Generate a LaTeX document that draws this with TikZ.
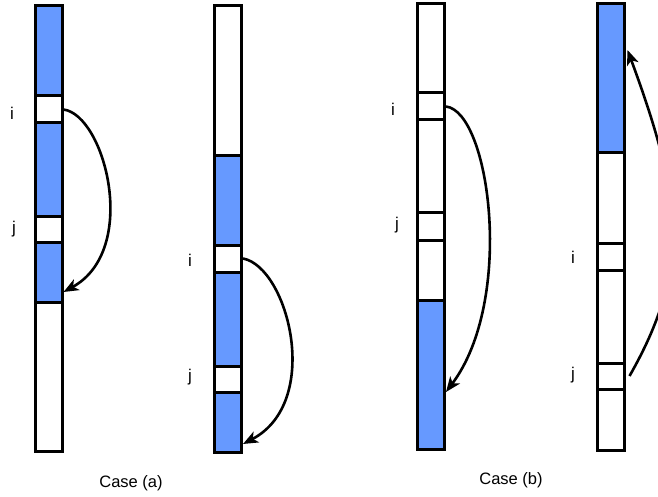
\documentclass[tikz,border=0pt]{standalone}
\usepackage{fontspec}
\setmainfont{Liberation Sans}
\usetikzlibrary{arrows.meta}
\definecolor{slotblue}{RGB}{102,153,255}
\tikzset{
  seg/.style={draw=black, line width=3pt, inner sep=0pt, minimum width=27pt},
  full/.style={seg, fill=slotblue},
  empty/.style={seg, fill=white},
  idx/.style={font=\fontsize{17pt}{20pt}\selectfont, inner sep=0pt},
  caption/.style={font=\fontsize{16.5pt}{19pt}\selectfont, inner sep=0pt},
  move/.style={line width=2.6pt, -{Stealth[length=15pt,width=12pt,inset=4pt]}}
}
\begin{document}
\begin{tikzpicture}[x=1pt,y=-1pt]
\path[use as bounding box] (0,0) rectangle (658,497);
\clip (0,0) rectangle (658,497);

% Case (a), first array
\node[full,  minimum height=90pt]  (a1) at (48.5,51)    {};
\node[empty, minimum height=27pt]  (ai) at (48.5,109.5) {};
\node[full,  minimum height=93pt]  (a2) at (48.5,169.5) {};
\node[empty, minimum height=26pt]  (aj) at (48.5,229)   {};
\node[full,  minimum height=60pt]  (a3) at (48.5,272)   {};
\node[empty, minimum height=149pt] (a4) at (48.5,376.5) {};
\node[idx] (ail) at (12,113) {i};
\node[idx] (ajl) at (14,229) {j};

% Case (a), second array
\node[empty, minimum height=150pt] (b1) at (228,81)    {};
\node[full,  minimum height=89pt]  (b2) at (228,200.5) {};
\node[empty, minimum height=27pt]  (bi) at (228,258.5) {};
\node[full,  minimum height=94pt]  (b3) at (228,319)   {};
\node[empty, minimum height=26pt]  (bj) at (228,379)   {};
\node[full,  minimum height=60pt]  (b4) at (228,422)   {};
\node[idx] (bil) at (190,260) {i};
\node[idx] (bjl) at (190,377) {j};

% Case (b), first array
\node[empty, minimum height=89pt]  (c1) at (431,48.5)  {};
\node[empty, minimum height=27pt]  (ci) at (431,106.5) {};
\node[empty, minimum height=92pt]  (c2) at (431,166)   {};
\node[empty, minimum height=28pt]  (cj) at (431,226)   {};
\node[empty, minimum height=60pt]  (c3) at (431,270)   {};
\node[full,  minimum height=149pt] (c4) at (431,374.5) {};
\node[idx] (cil) at (393,109) {i};
\node[idx] (cjl) at (397,225) {j};

% Case (b), second array
\node[full,  minimum height=149pt] (d1) at (610.5,78.5)  {};
\node[empty, minimum height=90pt]  (d2) at (610.5,198)   {};
\node[empty, minimum height=27pt]  (di) at (610.5,256.5) {};
\node[empty, minimum height=93pt]  (d3) at (610.5,316.5) {};
\node[empty, minimum height=26pt]  (dj) at (610.5,376)   {};
\node[empty, minimum height=61pt]  (d4) at (610.5,419.5) {};
\node[idx] (dil) at (573,257) {i};
\node[idx] (djl) at (573,375) {j};

% arrow targets
\coordinate (ta) at ([yshift=-20pt]a3.east);
\coordinate (tb) at ([yshift=-22pt]b4.east);
\coordinate (tc) at ([yshift=-17.5pt]c4.east);
\coordinate (td) at ([xshift=2pt,yshift=28.5pt]d1.east);
\coordinate (sd) at ([xshift=4pt]dj.east);

% moves
\draw[move] (ai.east) .. controls (105,115) and (140,250) .. (ta);
\draw[move] (bi.east) .. controls (288,267) and (323,402) .. (tb);
\draw[move] (ci.east) .. controls (490,112) and (515,300) .. (tc);
\draw[move] (sd) .. controls (690,270) and (683,200) .. (td);

% captions
\node[caption] (capa) at (131,483) {Case (a)};
\node[caption] (capb) at (511,480) {Case (b)};
\end{tikzpicture}
\end{document}
